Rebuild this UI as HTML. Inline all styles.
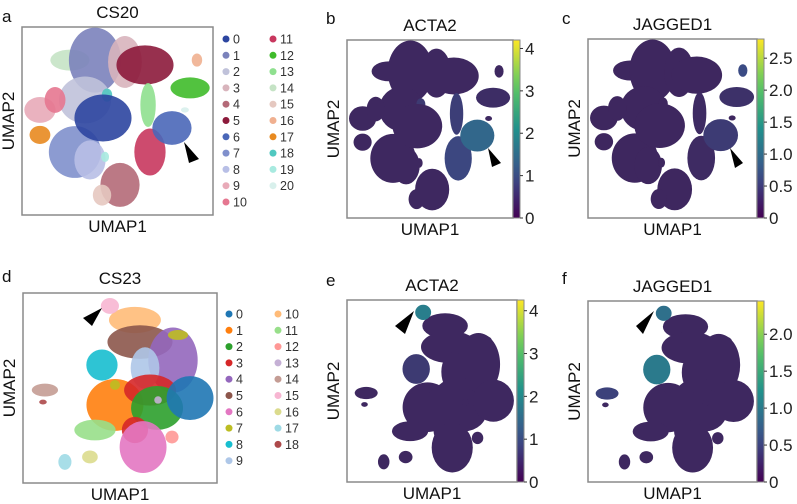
<!DOCTYPE html>
<html><head><meta charset="utf-8"><style>
body{margin:0;background:#fff;}
svg{display:block;font-family:"Liberation Sans",sans-serif;}
</style></head><body>
<svg id="fig" width="797" height="504" viewBox="0 0 797 504" xmlns="http://www.w3.org/2000/svg"></svg>
<script>
// ---- data: CS20 clusters (UMAP units 0-10) ----
const csA_cluster=[14,1,3,5,2,7,8,9,10,17,4,15,11,13,12,16,20,18,19,6,0];
const csA_cx=[2.51,3.82,5.39,6.44,3.30,2.77,3.56,0.94,1.73,0.94,5.13,4.19,6.70,6.60,8.80,9.16,8.53,4.45,4.35,7.85,4.24];
const csA_cy=[8.24,8.24,8.14,7.98,6.12,3.35,2.93,5.59,6.12,4.26,1.60,1.06,3.35,5.85,6.76,8.24,5.59,6.38,3.09,4.63,5.16];
const csA_rx=[0.79,1.05,0.68,1.15,1.05,1.05,0.63,0.63,0.42,0.42,0.79,0.37,0.63,0.31,0.79,0.21,0.16,0.21,0.16,0.79,1.15];
const csA_ry=[0.43,1.33,1.06,0.80,0.96,1.06,0.80,0.53,0.53,0.37,0.90,0.43,0.96,0.90,0.43,0.27,0.11,0.27,0.21,0.69,0.96];
const csA_colors=["#2c45a0","#7b82bb","#c0c2da","#d8b4bc","#b46a78","#8c1a3b","#4a67b8","#8090cc","#b8bfe6","#e8aab8","#e57790","#c8375e","#3fbb2a","#8fe08f","#c5e3c5","#e5c8c0","#f0b090","#e88a20","#50c8c0","#a8eae0","#d8f0ec"];
// ---- data: CS23 clusters ----
const csD_cluster=[10,15,5,4,9,8,7,1,3,2,0,3,6,11,12,13,14,16,17,18,7];
const csD_cx=[5.77,4.48,6.03,7.73,6.29,4.07,7.99,4.74,6.55,6.91,8.61,5.77,6.19,3.71,7.68,6.96,1.13,3.45,2.16,1.03,4.74];
const csD_cy=[8.58,9.32,7.42,6.47,6.05,6.21,7.79,4.11,4.89,3.95,4.47,2.79,1.89,2.79,2.42,4.37,4.89,1.37,1.11,4.26,5.16];
const csD_rx=[1.03,0.36,1.29,0.98,0.57,0.62,0.40,1.13,1.03,1.03,0.93,0.52,0.93,0.82,0.26,0.15,0.52,0.31,0.26,0.15,0.20];
const csD_ry=[0.53,0.32,0.68,1.32,0.84,0.63,0.20,1.05,0.63,0.89,0.89,0.53,1.05,0.42,0.26,0.15,0.26,0.26,0.32,0.10,0.20];
const csD_colors=["#1f77b4","#ff7f0e","#2ca02c","#d62728","#9467bd","#8c564b","#e377c2","#bcbd22","#17becf","#aec7e8","#ffbb78","#98df8a","#ff9896","#c5b0d5","#c49c94","#f7b6d2","#dbdb8d","#9edae5","#ad494a"];
// ---- expression per cluster ----
const exprB=[0.1,0.1,0.1,0.1,0.1,0.1,1.4,0.1,0.1,0.1,0.1,0.8,0.2,0.6,0.1,0.1,0.1,0.1,0.5,0.1,0.1];
const exprC=[0.05,0.05,0.05,0.05,0.05,0.05,0.35,0.05,0.05,0.05,0.05,0.1,0.2,0.1,0.05,0.05,0.6,0.05,0.05,0.05,0.05];
const exprE=[0.1,0.1,0.1,0.1,0.1,0.1,0.1,0.1,0.5,0.1,0.1,0.1,0.1,0.1,0.1,1.8,0.1,0.1,0.1];
const exprF=[0.05,0.05,0.05,0.05,0.05,0.05,0.05,0.05,1.0,0.05,0.05,0.05,0.05,0.05,0.4,0.9,0.05,0.05,0.05];
const ticksB=["0","1","2","3","4"], tickValsB=[0,1,2,3,4];
const ticksC=["0","0.5","1.0","1.5","2.0","2.5"], tickValsC=[0,0.5,1,1.5,2,2.5];
const ticksF=["0","0.5","1.0","1.5","2.0"], tickValsF=[0,0.5,1,1.5,2];

const NS="http://www.w3.org/2000/svg";
const svg=document.getElementById('fig');
const RS=1.3;
function mk(tag,attrs,parent){const e=document.createElementNS(NS,tag);for(const k in attrs)e.setAttribute(k,attrs[k]);(parent||svg).appendChild(e);return e;}
const vstops=[[0,[68,1,84]],[0.25,[59,82,139]],[0.5,[33,145,140]],[0.75,[94,201,98]],[1,[253,231,37]]];
const pstops=[[0,[62,36,92]],[0.25,[59,82,139]],[0.5,[33,145,140]],[0.75,[94,201,98]],[1,[253,231,37]]];
function cmap(stops,t){t=Math.max(0,Math.min(1,t));for(let i=1;i<stops.length;i++){if(t<=stops[i][0]){const a=stops[i-1],b=stops[i];const f=(t-a[0])/(b[0]-a[0]);const c=a[1].map((v,j)=>Math.round(v+(b[1][j]-v)*f));return `rgb(${c[0]},${c[1]},${c[2]})`;}}return 'rgb(253,231,37)';}
const viridis=t=>cmap(vstops,t);

function panel(o){
  const g=mk('g',{});
  const xs=u=>o.x0+u/10*(o.x1-o.x0), ys=u=>o.y1-u/10*(o.y1-o.y0);
  const sx=(o.x1-o.x0)/10*RS, sy=(o.y1-o.y0)/10*RS;
  mk('rect',{x:o.x0,y:o.y0,width:o.x1-o.x0,height:o.y1-o.y0,fill:'#fff',stroke:'#8a8a8a','stroke-width':1.5},g);
  const d=o.data;
  for(let i=0;i<d.cluster.length;i++){
    const c=d.cluster[i];
    const col=o.expr?cmap(pstops,o.expr[c]/o.vmax):d.colors[c];
    const e=mk('ellipse',{cx:xs(d.cx[i]),cy:ys(d.cy[i]),rx:d.rx[i]*sx,ry:d.ry[i]*sy,fill:col,'fill-opacity':o.expr?1:0.9},g);
    
    
  }
  const t=mk('text',{x:(o.x0+o.x1)/2,y:o.y0-9,'text-anchor':'middle','font-size':17,fill:'#111'},g);t.textContent=o.title;
  
  const l=mk('text',{x:o.lx,y:o.ly,'font-size':17,fill:'#111'},g);l.textContent=o.letter;
  
  const xl=mk('text',{x:(o.x0+o.x1)/2,y:o.y1+17,'text-anchor':'middle','font-size':17,fill:'#111'},g);xl.textContent='UMAP1';
  
  const ym=(o.y0+o.y1)/2, yx=o.x0-8;
  const yl=mk('text',{x:yx,y:ym,'text-anchor':'middle','font-size':17,fill:'#111',transform:`rotate(-90 ${yx} ${ym})`},g);yl.textContent='UMAP2';
  
  const a=o.arrow;
  const ar=mk('polygon',{points:a.map(p=>p.join(',')).join(' '),fill:'#000'},g);
  
  if(o.expr){
    const id='grad'+o.letter;
    const lg=mk('linearGradient',{id:id,x1:0,y1:1,x2:0,y2:0},mk('defs',{},g));
    for(let i=0;i<=10;i++)mk('stop',{offset:i/10,'stop-color':viridis(i/10)},lg);
    const cb=mk('rect',{x:o.x1,y:o.y0,width:7,height:o.y1-o.y0,fill:`url(#${id})`,stroke:'#8a8a8a','stroke-width':1},g);
    
    const cs=v=>o.y1-v/o.vmax*(o.y1-o.y0);
    o.tickVals.forEach((v,i)=>{
      mk('line',{x1:o.x1+7,x2:o.x1+10,y1:cs(v),y2:cs(v),stroke:'#333'},g);
      const tt=mk('text',{x:o.x1+12,y:cs(v)+6,'font-size':17,fill:'#222'},g);tt.textContent=o.ticks[i];
      
    });
  }
}
function legend(colors,x1,x2,y0,perCol,name){
  const g=mk('g',{});
  colors.forEach((c,i)=>{
    const col=i<perCol?0:1, row=i<perCol?i:i-perCol;
    const x=col?x2:x1, y=y0+row*16.3;
    const e=mk('g',{},g);
    mk('circle',{cx:x,cy:y,r:3.5,fill:c},e);
    const t=mk('text',{x:x+7,y:y+4.5,'font-size':12.5,fill:'#333'},e);t.textContent=String(i);
  });
}
const A={cluster:csA_cluster,cx:csA_cx,cy:csA_cy,rx:csA_rx,ry:csA_ry,colors:csA_colors};
const D={cluster:csD_cluster,cx:csD_cx,cy:csD_cy,rx:csD_rx,ry:csD_ry,colors:csD_colors};
panel({name:'panel-a-cs20',data:A,x0:22,x1:213,y0:27,y1:215,title:'CS20',letter:'a',lx:2,ly:22,arrow:[[184,142],[189,163],[199,159]]});
legend(csA_colors,226,273,39,11,'legend-cs20');
panel({name:'panel-b-acta2',data:A,expr:exprB,vmax:4.2,ticks:ticksB,tickVals:tickValsB,x0:347,x1:513,y0:40,y1:218,title:'ACTA2',letter:'b',lx:326,ly:24,arrow:[[488,148],[492,167],[501,163]]});
panel({name:'panel-c-jagged1',data:A,expr:exprC,vmax:2.8,ticks:ticksC,tickVals:tickValsC,x0:588,x1:757,y0:39,y1:218,title:'JAGGED1',letter:'c',lx:562,ly:24,arrow:[[730,148],[735,168],[743,163]]});
panel({name:'panel-d-cs23',data:D,x0:23,x1:217,y0:293,y1:483,title:'CS23',letter:'d',lx:2,ly:282,arrow:[[102,308],[83,318],[92,326]]});
legend(csD_colors,229,278,314,10,'legend-cs23');
panel({name:'panel-e-acta2',data:D,expr:exprE,vmax:4.25,ticks:ticksB,tickVals:tickValsB,x0:347,x1:517,y0:300,y1:482,title:'ACTA2',letter:'e',lx:326,ly:286,arrow:[[414,311],[395,326],[405,334]]});
panel({name:'panel-f-jagged1',data:D,expr:exprF,vmax:2.45,ticks:ticksF,tickVals:tickValsF,x0:588,x1:757,y0:301,y1:482,title:'JAGGED1',letter:'f',lx:562,ly:284,arrow:[[654,311],[636,326],[643,334]]});
</script>
</body></html>
